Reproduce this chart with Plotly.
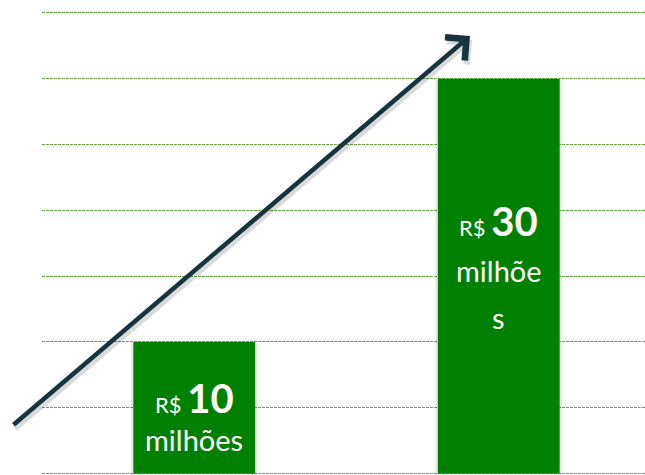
import plotly.graph_objects as go

categories = ["Antes", "Depois"]
values = [10, 30]
label_lines = [["R$ <b>10</b>", "milhões"], ["R$ <b>30</b>", "milhõe", "s"]]
y_ticks = [0, 5, 10, 15, 20, 25, 30, 35]

W, H = 645, 475
left = 42
px_per_unit = 461 / 35.0
y_min = -1.5 / px_per_unit
y_max = 35 + 13 / px_per_unit

fig = go.Figure()
# faint shadow behind bars
fig.add_trace(go.Bar(x=[0, 1], y=values, width=0.415, marker=dict(color="rgba(0,0,0,0.10)", line=dict(width=0)),
                     hoverinfo="skip", showlegend=False, base=y_min))
fig.add_trace(go.Bar(x=[0, 1], y=values, width=0.40, marker=dict(color="#008000", line=dict(width=0)),
                     showlegend=False, hovertext=categories))

# text inside bars
font_main = "Lato, Open Sans, sans-serif"
def py_to_val(py):
    return (474 - py) / px_per_unit

line_centers = [[398, 440], [221, 271, 318]]
for i, lines in enumerate(label_lines):
    for j, t in enumerate(lines):
        if "<b>" in t:
            txt = t.replace("R$ ", "<span style='font-size:22px'>R$ </span>")
            size = 40
        else:
            txt = t
            size = 29
        fig.add_annotation(x=i, y=py_to_val(line_centers[i][j]), xref="x", yref="y",
                           text=txt, showarrow=False, xanchor="center", yanchor="middle",
                           font=dict(family=font_main, size=size, color="white"))

# rising arrow (shadow + arrow)
tail = (12, 426)
head = (470, 36)
plot_w = W - left
def to_paper(p):
    return (p[0] - left) / plot_w, 1 - p[1] / H
for dx, dy, col in [(2, 4, "rgba(0,0,0,0.14)"), (0, 0, "#17343f")]:
    hx, hy = to_paper((head[0] + dx, head[1] + dy))
    fig.add_annotation(x=hx, y=hy, xref="paper", yref="paper", text="", showarrow=True,
                       ax=tail[0] - head[0], ay=tail[1] - head[1], axref="pixel", ayref="pixel",
                       arrowhead=4, arrowsize=1.3, arrowwidth=4.5, arrowcolor=col, standoff=0)

fig.update_layout(
    width=W, height=H,
    margin=dict(l=left, r=0, t=0, b=0, autoexpand=False),
    paper_bgcolor="white", plot_bgcolor="white",
    barmode="overlay",
    xaxis=dict(range=[-0.5, -0.5 + plot_w / 304.5], showgrid=False, zeroline=False,
               showticklabels=False, showline=False, ticks=""),
    yaxis=dict(range=[y_min, y_max], tickvals=y_ticks, showgrid=True, gridcolor="#6ca14c",
               gridwidth=1, griddash="3px,1px", zeroline=False, showticklabels=False,
               showline=False, ticks=""),
)

fig.write_html("out.html", config={"displayModeBar": False},
               post_script="document.body.style.margin='0';document.body.style.overflow='hidden';")
